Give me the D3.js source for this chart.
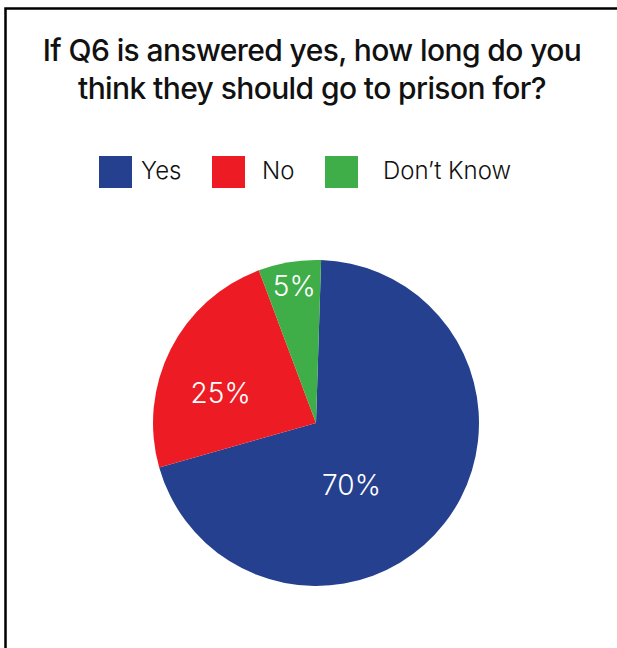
<!DOCTYPE html>
<html>
<head>
<meta charset="utf-8">
<script src="https://cdn.jsdelivr.net/npm/d3@7"></script>
<style>
  body { margin: 0; background: #fff; }
  svg { display: block; }
</style>
</head>
<body>
<div id="chart"></div>
<script>
// data
var categories = ["Yes", "No", "Don\u2019t Know"];
var shares = [70.1, 23.7, 6.2];          // slice sizes as drawn
var labels = ["70%", "25%", "5%"];        // printed labels
var colors = ["#25408f", "#ed1c24", "#3fae49"];
var titleLines = ["If Q6 is answered yes, how long do you", "think they should go to prison for?"];

var w = 617, h = 648;
var cx = 316, cy = 423, r = 163;

var svg = d3.select("#chart").append("svg")
    .attr("width", w)
    .attr("height", h);

// frame (only top and left edges show)
svg.append("path")
    .attr("d", "M5.5," + h + " V8.5 H" + w)
    .attr("fill", "none")
    .attr("stroke", "#000")
    .attr("stroke-width", 2.5);

// title
svg.selectAll(".title")
    .data(titleLines)
    .enter().append("text")
    .attr("class", "title")
    .attr("x", 312)
    .attr("y", function(d, i) { return 61 + i * 38; })
    .attr("text-anchor", "middle")
    .attr("font-family", "Inter, 'Noto Sans', sans-serif")
    .attr("font-weight", 500)
    .attr("font-size", 30)
    .attr("letter-spacing", -0.6)
    .attr("fill", "#111")
    .text(function(d) { return d; });

// legend
var legendX = [99, 212, 325];
var legendTextX = [141, 262, 383];
var legend = svg.selectAll(".legend")
    .data(categories)
    .enter().append("g")
    .attr("class", "legend");
legend.append("rect")
    .attr("x", function(d, i) { return legendX[i]; })
    .attr("y", 156)
    .attr("width", 33)
    .attr("height", 32)
    .attr("fill", function(d, i) { return colors[i]; });
legend.append("text")
    .attr("x", function(d, i) { return legendTextX[i]; })
    .attr("y", 179)
    .attr("font-family", "Inter, 'Noto Sans', sans-serif")
    .attr("font-weight", 300)
    .attr("font-size", 24)
    .attr("fill", "#111")
    .text(function(d) { return d; });

// pie
var offset = 1.8 * Math.PI / 180;
var pie = d3.pie()
    .sort(null)
    .startAngle(offset)
    .endAngle(2 * Math.PI + offset);
var arcs = pie(shares);

var arc = d3.arc().innerRadius(0).outerRadius(r);

var g = svg.append("g")
    .attr("transform", "translate(" + cx + "," + cy + ")");

g.selectAll(".slice")
    .data(arcs)
    .enter().append("path")
    .attr("class", "slice")
    .attr("d", arc)
    .attr("fill", function(d, i) { return colors[i]; });

// label placement: angle (deg, clockwise from top) and distance from centre
var labelAngle = [150, 287.5, 351];
var labelDist = [71, 100, 139];
g.selectAll(".pct")
    .data(labels)
    .enter().append("text")
    .attr("class", "pct")
    .attr("x", function(d, i) { return labelDist[i] * Math.sin(labelAngle[i] * Math.PI / 180); })
    .attr("y", function(d, i) { return -labelDist[i] * Math.cos(labelAngle[i] * Math.PI / 180); })
    .attr("dy", "0.36em")
    .attr("text-anchor", "middle")
    .attr("font-family", "Inter, 'Noto Sans', sans-serif")
    .attr("font-weight", 300)
    .attr("font-size", 28)
    .attr("fill", "#fff")
    .text(function(d) { return d; });
</script>
</body>
</html>
